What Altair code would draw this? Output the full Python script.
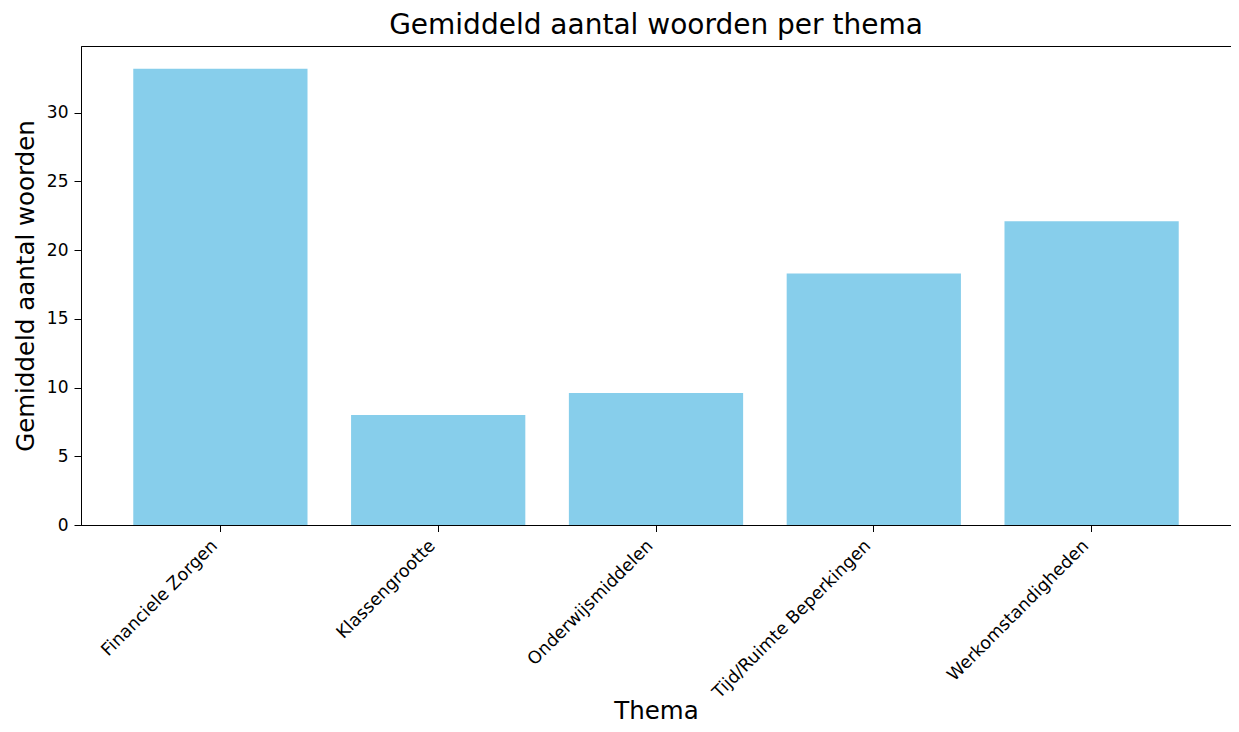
import altair as alt
import pandas as pd

themes = ["Financiele Zorgen", "Klassengrootte", "Onderwijsmiddelen",
          "Tijd/Ruimte Beperkingen", "Werkomstandigheden"]
avg_words = [33.2, 8.0, 9.6, 18.3, 22.1]
y_ticks = [0, 5, 10, 15, 20, 25, 30]
y_max = 34.86

df = pd.DataFrame({"Thema": themes, "Gemiddeld": avg_words})

FONT = "DejaVu Sans"
W, H = 1150, 479

chart = alt.Chart(df).mark_bar(color="#87CEEB").encode(
    x=alt.X(
        "Thema:N", sort=themes, title="Thema",
        scale=alt.Scale(paddingInner=0.2, paddingOuter=0.24),
        axis=alt.Axis(
            labelAngle=-45, labelAlign="right", labelBaseline="top",
            labelOffset=-12, labelPadding=5, tickSize=6.5, labelLimit=0,
            labelFontSize=17.5, titleFontSize=24.5,
            titleX=W / 2, titleY=193, titleBaseline="alphabetic",
            titleAlign="center",
        ),
    ),
    y=alt.Y(
        "Gemiddeld:Q", title="Gemiddeld aantal woorden",
        scale=alt.Scale(domain=[0, y_max], nice=False, zero=True),
        axis=alt.Axis(
            values=y_ticks, tickSize=7, labelPadding=6, labelFontSize=17,
            titleFontSize=24.5, titleX=-48, titleY=H / 2,
            titleBaseline="alphabetic", titleAlign="center", titleAngle=-90,
        ),
    ),
).properties(
    width=W, height=H,
    title=alt.TitleParams(
        "Gemiddeld aantal woorden per thema", fontSize=28, font=FONT,
        fontWeight="normal", anchor="middle", baseline="alphabetic",
        offset=10, dy=26, color="black",
    ),
    padding={"left": 73, "top": 38, "right": 0, "bottom": 199},
    autosize=alt.AutoSizeParams(type="none"),
).configure_view(
    stroke="black", strokeWidth=1
).configure_axis(
    domainColor="black", tickColor="black", labelColor="black",
    titleColor="black", labelFont=FONT, titleFont=FONT, grid=False,
    titleFontWeight="normal", domainWidth=1, tickWidth=1,
)

chart.save("out.html", embed_options={"renderer": "svg", "actions": False})
